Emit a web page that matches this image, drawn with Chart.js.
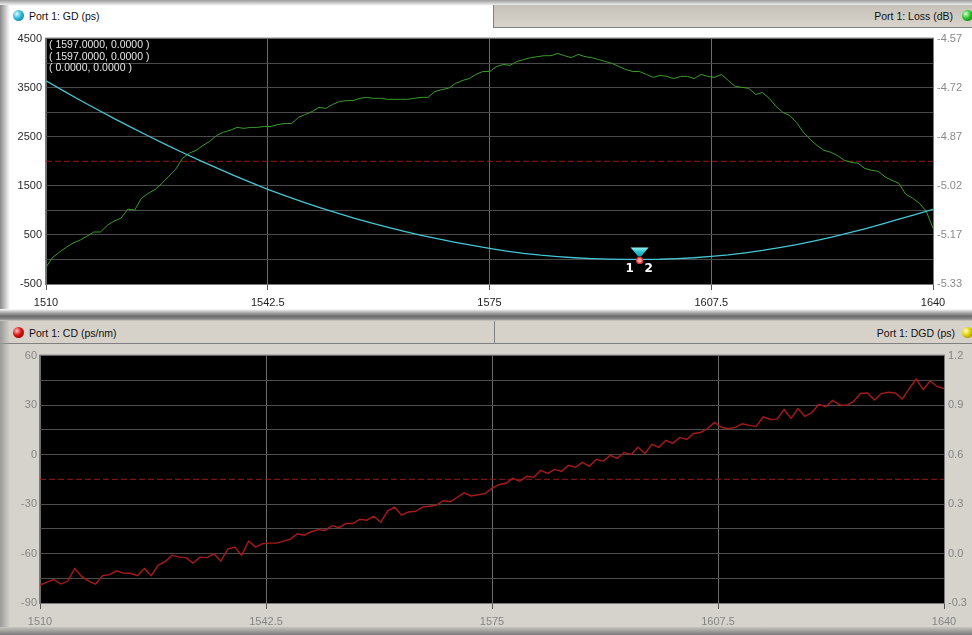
<!DOCTYPE html>
<html>
<head>
<meta charset="utf-8">
<script src="https://cdn.jsdelivr.net/npm/chart.js@4.4.1/dist/chart.umd.min.js"></script>
<style>
  body { margin: 0; width: 972px; height: 635px; overflow: hidden; position: relative;
         background: #fff; font-family: "Liberation Sans", Arial, sans-serif; font-size: 11px; }
  .abs { position: absolute; }
  .ball { position: absolute; width: 11px; height: 11px; border-radius: 50%; }
  .hdrText { position: absolute; font-size: 10.5px; line-height: 12px; color: #111; white-space: nowrap; }
</style>
</head>
<body>
<!-- window chrome -->
<div class="abs" style="left:0;top:0;width:972px;height:6px;background:linear-gradient(#9a9a9a,#fff);"></div>
<div class="abs" style="left:0;top:5px;width:10px;height:305px;background:linear-gradient(to right,#8a8a8a,#fff);"></div>
<div class="abs" style="left:493px;top:5px;width:479px;height:22px;background:linear-gradient(#c6c2ba,#d8d4cc);border-left:1px solid #808080;border-bottom:1px solid #808080;"></div>

<div class="ball" style="left:13px;top:10px;background:radial-gradient(circle at 35% 35%,#d8ffff 0%,#30b8d8 45%,#0b5f86 100%);"></div>
<div class="hdrText" style="left:29px;top:10px;">Port 1: GD (ps)</div>
<div class="hdrText" style="right:19px;top:10px;">Port 1: Loss (dB)</div>
<div class="ball" style="left:962px;top:10px;background:radial-gradient(circle at 35% 35%,#d8ffd0 0%,#2cc02c 45%,#0b660b 100%);"></div>

<div class="abs" style="left:0;top:309px;width:972px;height:12px;background:linear-gradient(#fff 0%,#b8b8b8 25%,#6a6a6a 60%,#8c8c8c 85%,#d4d0c8 100%);"></div>
<div class="abs" style="left:0;top:321px;width:972px;height:22px;background:#d6d2ca;border-bottom:1px solid #808080;"></div>
<div class="abs" style="left:494px;top:321px;width:1px;height:22px;background:#808080;"></div>
<div class="abs" style="left:0;top:344px;width:972px;height:284px;background:#d6d3cd;"></div>
<div class="abs" style="left:0;top:321px;width:10px;height:307px;background:linear-gradient(to right,#9a9a9a,rgba(214,211,205,0));"></div>
<div class="abs" style="left:0;top:627px;width:972px;height:8px;background:linear-gradient(#c8c5bf,#7a7a7a);"></div>

<div class="ball" style="left:13px;top:327px;background:radial-gradient(circle at 35% 35%,#ffc0c0 0%,#d81010 45%,#6a0000 100%);"></div>
<div class="hdrText" style="left:29px;top:327px;">Port 1: CD (ps/nm)</div>
<div class="hdrText" style="right:17px;top:327px;">Port 1: DGD (ps)</div>
<div class="ball" style="left:962px;top:327px;background:radial-gradient(circle at 35% 35%,#ffffd0 0%,#e0d000 45%,#7a6a00 100%);"></div>

<canvas id="chartTop" class="abs" width="972" height="290" style="left:0;top:28px;"></canvas>
<canvas id="chartBot" class="abs" width="972" height="283" style="left:0;top:345px;"></canvas>

<div id="readout" class="abs" style="left:49px;top:39px;font-size:10.5px;line-height:11.5px;color:#e6e6e6;white-space:pre;"></div>

<script>
  // ---- data ----
  const GD_WL = [1510, 1512.5, 1515, 1517.5, 1520, 1522.5, 1525, 1527.5, 1530, 1532.5,
    1535, 1537.5, 1540, 1542.5, 1545, 1547.5, 1550, 1552.5, 1555, 1557.5,
    1560, 1562.5, 1565, 1567.5, 1570, 1572.5, 1575, 1577.5, 1580, 1582.5,
    1585, 1587.5, 1590, 1592.5, 1595, 1597.5, 1600, 1602.5, 1605, 1607.5,
    1610, 1612.5, 1615, 1617.5, 1620, 1622.5, 1625, 1627.5, 1630, 1632.5,
    1635, 1637.5, 1640];
  const GD_PS = [3640, 3440, 3245, 3055, 2870, 2690, 2515, 2345, 2180, 2020,
    1865, 1715, 1570, 1430, 1300, 1178, 1062, 952, 848, 750,
    658, 572, 492, 418, 350, 285, 225, 172, 126, 88,
    58, 35, 18, 7, 2, 0, 4, 16, 35, 62,
    95, 136, 184, 240, 303, 373, 450, 535, 625, 720,
    820, 920, 1020];

  const WL = [1510, 1511, 1512, 1513, 1514, 1515, 1516, 1517, 1518, 1519,
    1520, 1521, 1522, 1523, 1524, 1525, 1526, 1527, 1528, 1529,
    1530, 1531, 1532, 1533, 1534, 1535, 1536, 1537, 1538, 1539,
    1540, 1541, 1542, 1543, 1544, 1545, 1546, 1547, 1548, 1549,
    1550, 1551, 1552, 1553, 1554, 1555, 1556, 1557, 1558, 1559,
    1560, 1561, 1562, 1563, 1564, 1565, 1566, 1567, 1568, 1569,
    1570, 1571, 1572, 1573, 1574, 1575, 1576, 1577, 1578, 1579,
    1580, 1581, 1582, 1583, 1584, 1585, 1586, 1587, 1588, 1589,
    1590, 1591, 1592, 1593, 1594, 1595, 1596, 1597, 1598, 1599,
    1600, 1601, 1602, 1603, 1604, 1605, 1606, 1607, 1608, 1609,
    1610, 1611, 1612, 1613, 1614, 1615, 1616, 1617, 1618, 1619,
    1620, 1621, 1622, 1623, 1624, 1625, 1626, 1627, 1628, 1629,
    1630, 1631, 1632, 1633, 1634, 1635, 1636, 1637, 1638, 1639,
    1640];
  const LOSS_DB = [-5.278, -5.247, -5.231, -5.216, -5.203, -5.194, -5.182, -5.169, -5.169, -5.148,
    -5.135, -5.126, -5.098, -5.101, -5.064, -5.049, -5.037, -5.018, -4.996, -4.975,
    -4.941, -4.925, -4.916, -4.901, -4.888, -4.870, -4.860, -4.854, -4.845, -4.848,
    -4.845, -4.845, -4.842, -4.842, -4.836, -4.833, -4.833, -4.814, -4.805, -4.796,
    -4.783, -4.786, -4.774, -4.765, -4.762, -4.762, -4.755, -4.752, -4.755, -4.755,
    -4.758, -4.758, -4.758, -4.758, -4.755, -4.752, -4.752, -4.734, -4.728, -4.724,
    -4.709, -4.700, -4.694, -4.681, -4.672, -4.672, -4.657, -4.650, -4.653, -4.641,
    -4.635, -4.629, -4.626, -4.623, -4.623, -4.616, -4.623, -4.629, -4.619, -4.626,
    -4.629, -4.635, -4.641, -4.647, -4.657, -4.666, -4.672, -4.672, -4.681, -4.690,
    -4.684, -4.687, -4.694, -4.687, -4.687, -4.694, -4.681, -4.687, -4.690, -4.681,
    -4.700, -4.718, -4.721, -4.724, -4.743, -4.737, -4.755, -4.780, -4.799, -4.808,
    -4.830, -4.860, -4.882, -4.901, -4.916, -4.922, -4.932, -4.947, -4.953, -4.956,
    -4.972, -4.978, -4.981, -4.999, -5.009, -5.018, -5.052, -5.064, -5.080, -5.104,
    -5.157];
  const CD_PSNM = [-79.1, -77.3, -75.8, -78.5, -76.7, -69.1, -74.0, -76.7, -78.5, -73.4,
    -72.8, -70.5, -71.9, -72.0, -73.4, -69.1, -73.4, -67.0, -64.9, -61.0,
    -62.2, -62.5, -65.8, -62.2, -62.5, -60.1, -64.6, -57.3, -56.1, -61.0,
    -52.5, -56.1, -54.0, -53.7, -53.7, -52.5, -51.3, -48.0, -48.9, -46.8,
    -45.5, -46.0, -43.1, -44.3, -41.8, -41.8, -39.2, -39.8, -37.4, -41.0,
    -34.1, -31.9, -36.8, -34.8, -34.4, -31.9, -31.3, -30.7, -28.0, -28.6,
    -25.9, -23.2, -25.1, -24.4, -23.7, -20.4, -18.3, -17.4, -14.4, -16.2,
    -13.2, -13.8, -9.6, -11.4, -9.0, -10.2, -6.5, -7.7, -4.7, -7.1,
    -2.9, -4.1, -0.5, -2.3, 1.3, 0.1, 4.4, 0.7, 6.2, 4.4,
    8.6, 6.8, 10.4, 9.2, 12.8, 13.4, 15.8, 19.5, 16.5, 15.7,
    16.5, 18.7, 17.7, 17.1, 22.8, 21.3, 21.5, 27.3, 21.9, 27.9,
    23.1, 25.5, 30.4, 29.0, 32.8, 30.1, 29.9, 32.2, 37.0, 37.3,
    33.1, 37.0, 37.8, 37.3, 33.7, 40.0, 45.8, 39.4, 44.6, 41.3,
    40.0];

  const X_RANGE = [1510, 1640];
  const X_STEP = 32.5;
  const GD_RANGE = [-500, 4500];
  const LOSS_TICKS = [-5.33, -5.178, -5.026, -4.874, -4.722, -4.57];
  const LOSS_LABELS = ["-5.33", "-5.17", "-5.02", "-4.87", "-4.72", "-4.57"];
  const CD_RANGE = [-90, 60];
  const DGD_TICKS = [-0.3, 0.0, 0.3, 0.6, 0.9, 1.2];
  const DGD_LABELS = ["-0.3", "0.0", "0.3", "0.6", "0.9", "1.2"];
  const GD_REF = 2000;       // red dashed reference, top panel
  const CD_REF = -15;        // red dashed reference, bottom panel
  const MARKER = { wl: 1597, gd: 0 };
  const MARKER_LABELS = ["1", "2"];
  const READOUT = ["( 1597.0000, 0.0000 )", "( 1597.0000, 0.0000 )", "( 0.0000, 0.0000 )"];

  document.getElementById("readout").textContent = READOUT.join("\n");

  const $ = (id) => document.getElementById(id);
  const pts = (xs, ys) => xs.map((x, i) => ({ x, y: ys[i] }));

  Chart.defaults.font.family = '"Liberation Sans", Arial, sans-serif';
  Chart.defaults.font.size = 11;

  // black plot area + thin frame
  const plotBg = {
    id: "plotBg",
    beforeDraw(c) {
      const { ctx, chartArea: a } = c;
      ctx.save();
      ctx.fillStyle = "#000";
      ctx.fillRect(a.left, a.top, a.width, a.height);
      ctx.restore();
    },
    afterDraw(c) {
      const { ctx, chartArea: a } = c;
      ctx.save();
      ctx.strokeStyle = "#7a7a7a";
      ctx.lineWidth = 1;
      ctx.strokeRect(a.left - 0.5, a.top - 0.5, a.width + 1, a.height + 1);
      ctx.restore();
    }
  };

  // cursor marker (triangle + "1 2")
  const markerPlugin = {
    id: "marker",
    afterDatasetsDraw(c) {
      const { ctx, scales } = c;
      const px = scales.x.getPixelForValue(MARKER.wl);
      const py = scales.y.getPixelForValue(MARKER.gd);
      ctx.save();
      ctx.beginPath();
      ctx.moveTo(px - 9, py - 12);
      ctx.lineTo(px + 9, py - 12);
      ctx.lineTo(px + 1.5, py - 3);
      ctx.lineTo(px - 1.5, py - 3);
      ctx.closePath();
      const g = ctx.createLinearGradient(0, py - 12, 0, py - 3);
      g.addColorStop(0, "#9ff4f4");
      g.addColorStop(0.45, "#2fc8d4");
      g.addColorStop(1, "#1a94ac");
      ctx.fillStyle = g;
      ctx.fill();
      ctx.beginPath();
      ctx.arc(px, py + 1, 3, 0, Math.PI * 2);
      ctx.fillStyle = "#f2a0a0";
      ctx.fill();
      ctx.strokeStyle = "#e03535";
      ctx.lineWidth = 1.2;
      ctx.stroke();
      ctx.fillStyle = "#fff";
      ctx.font = 'bold 12px "DejaVu Sans", sans-serif';
      ctx.textAlign = "center";
      ctx.textBaseline = "middle";
      ctx.fillText(MARKER_LABELS[0], px - 10, py + 9);
      ctx.fillText(MARKER_LABELS[1], px + 9, py + 9);
      ctx.restore();
    }
  };

  function xScale(labelColor, axisHeight) {
    return {
      type: "linear", min: X_RANGE[0], max: X_RANGE[1],
      afterBuildTicks: (s) => {
        const t = [];
        for (let v = X_RANGE[0]; v <= X_RANGE[1] + 1e-9; v += X_STEP) t.push({ value: v });
        s.ticks = t;
      },
      ticks: { color: labelColor, padding: 6, autoSkip: false, maxRotation: 0,
               callback: (v) => String(v) },
      grid: { color: "#6c6c6c", lineWidth: 1, drawTicks: true, tickLength: 6, tickColor: "#555" },
      border: { display: false },
      afterFit: (s) => { s.height = axisHeight; }
    };
  }

  new Chart($("chartTop"), {
    type: "line",
    data: {
      datasets: [
        { data: pts(GD_WL, GD_PS), yAxisID: "y", borderColor: "#45c6d4", borderWidth: 1.3,
          pointRadius: 0, tension: 0 },
        { data: pts(WL, LOSS_DB), yAxisID: "y2", borderColor: "#3b9c2a", borderWidth: 1,
          pointRadius: 0, tension: 0 },
        { data: pts(X_RANGE, [GD_REF, GD_REF]), yAxisID: "y", borderColor: "#961a1a",
          borderWidth: 1, borderDash: [6, 3], pointRadius: 0 }
      ]
    },
    options: {
      responsive: false, animation: false, events: [],
      layout: { padding: { top: 10, left: 0, right: 0, bottom: 0 } },
      plugins: { legend: { display: false }, tooltip: { enabled: false } },
      scales: {
        x: xScale("#1e1e1e", 34),
        y: {
          position: "left", min: GD_RANGE[0], max: GD_RANGE[1],
          ticks: { stepSize: 500, autoSkip: false, color: "#2a2a2a", padding: 4,
                   callback: (v) => ((v - GD_RANGE[0]) % 1000 === 0 ? String(v) : "") },
          grid: { drawTicks: false, color: (c) => (c.tick && c.tick.value === GD_REF ? "rgba(0,0,0,0)" : "#4b4b4b") },
          border: { display: false },
          afterFit: (s) => { s.width = 46; }
        },
        y2: {
          position: "right", min: LOSS_TICKS[0], max: LOSS_TICKS[LOSS_TICKS.length - 1],
          afterBuildTicks: (s) => { s.ticks = LOSS_TICKS.map((v) => ({ value: v })); },
          ticks: { autoSkip: false, color: "#8a8a8a", padding: 4,
                   callback: (v, i) => LOSS_LABELS[i] },
          grid: { display: false, drawTicks: false },
          border: { display: false },
          afterFit: (s) => { s.width = 39; }
        }
      }
    },
    plugins: [plotBg, markerPlugin]
  });

  new Chart($("chartBot"), {
    type: "line",
    data: {
      datasets: [
        { data: pts(WL, CD_PSNM), yAxisID: "y", borderColor: "#a81a1a", borderWidth: 1.4,
          pointRadius: 0, tension: 0 },
        { data: pts(X_RANGE, [CD_REF, CD_REF]), yAxisID: "y", borderColor: "#961a1a",
          borderWidth: 1, borderDash: [6, 3], pointRadius: 0 }
      ]
    },
    options: {
      responsive: false, animation: false, events: [],
      layout: { padding: { top: 10, left: 0, right: 0, bottom: 0 } },
      plugins: { legend: { display: false }, tooltip: { enabled: false } },
      scales: {
        x: xScale("#858585", 25),
        y: {
          position: "left", min: CD_RANGE[0], max: CD_RANGE[1],
          ticks: { stepSize: 15, autoSkip: false, color: "#858585", padding: 3,
                   callback: (v) => ((v - CD_RANGE[0]) % 30 === 0 ? String(v) : "") },
          grid: { drawTicks: false, color: (c) => (c.tick && c.tick.value === CD_REF ? "rgba(0,0,0,0)" : "#4d4d4d") },
          border: { display: false },
          afterFit: (s) => { s.width = 40; }
        },
        y2: {
          position: "right", min: DGD_TICKS[0], max: DGD_TICKS[DGD_TICKS.length - 1],
          afterBuildTicks: (s) => { s.ticks = DGD_TICKS.map((v) => ({ value: v })); },
          ticks: { autoSkip: false, color: "#858585", padding: 4,
                   callback: (v, i) => DGD_LABELS[i] },
          grid: { display: false, drawTicks: false },
          border: { display: false },
          afterFit: (s) => { s.width = 28; }
        }
      }
    },
    plugins: [plotBg]
  });
</script>
</body>
</html>
